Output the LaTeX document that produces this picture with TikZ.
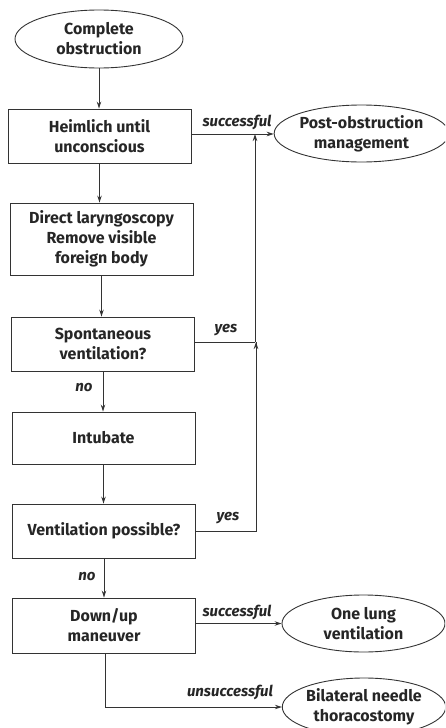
\documentclass[tikz,border=0pt]{standalone}
\usepackage{fontspec}
\setmainfont{Fira Sans}
\usetikzlibrary{arrows.meta,shapes.geometric}
\begin{document}
\begin{tikzpicture}[x=1pt,y=-1pt,
  every node/.style={font=\fontsize{16}{20}\selectfont\bfseries, text=black!85, align=center},
  box/.style={draw=black!80, line width=0.9pt, rectangle, minimum width=183pt, inner sep=0pt},
  oval/.style={draw=black!80, line width=0.9pt, ellipse, inner sep=0pt},
  lbl/.style={font=\fontsize{15}{17}\selectfont\bfseries\itshape, inner sep=0pt},
  conn/.style={draw=black!80, line width=0.9pt},
  arr/.style={conn, -{Stealth[length=7pt,width=4.5pt]}}]
\clip (0,0) rectangle (445,728);
\useasboundingbox (0,0) rectangle (445,728);
\node[oval, minimum width=168pt, minimum height=58pt] (start) at (99,39) {Complete\\obstruction};
\node[box, minimum height=54pt] (heim) at (99.5,136) {Heimlich until\\unconscious};
\node[oval, minimum width=167pt, minimum height=57pt] (post) at (361.5,133.5) {Post-obstruction\\management};
\node[box, minimum height=72pt] (dl) at (101.5,239) {Direct laryngoscopy\\Remove visible\\foreign body};
\node[box, minimum height=54pt] (spont) at (103,344) {Spontaneous\\ventilation?};
\node[box, minimum height=52pt] (intub) at (103.5,438) {Intubate};
\node[box, minimum height=54pt] (vent) at (104,531) {Ventilation possible?};
\node[box, minimum height=55pt] (down) at (104,625.5) {Down/up\\maneuver};
\node[oval, minimum width=163pt, minimum height=57pt] (lung) at (363.5,623.5) {One lung\\ventilation};
\node[oval, minimum width=162pt, minimum height=58pt] (bil) at (364,707) {Bilateral needle\\thoracostomy};
\coordinate (j1) at (255,134);
\coordinate (j2) at (255,342);
\coordinate (j3) at (256,531);
\coordinate (j4) at (105,707);
% main flow
\draw[arr] (start.south) -- (start.south |- heim.north);
\draw[arr] (heim.south) -- (heim.south |- dl.north);
\draw[arr] (dl.south) -- (dl.south |- spont.north);
\draw[arr] (spont.south) -- (spont.south |- intub.north);
\draw[arr] (intub.south) -- (intub.south |- vent.north);
\draw[arr] (vent.south) -- (vent.south |- down.north);
% right side
\draw[arr] (heim.east |- j1) -- (post.west |- j1);
\draw[conn] (spont.east |- j2) -- (j2);
\draw[conn] (vent.east |- j3) -- (j3) -- (j3 |- j2);
\draw[arr] (j3 |- j2) ++(0,4) -- (j3 |- j2);
\draw[arr] (j2) -- (j1);
\draw[arr] (down.east |- lung.west) -- (lung.west);
\draw[arr] (j4 |- down.south) -- (j4) -- (bil.west |- j4);
% labels
\node[lbl] at (237,122) {successful};
\node[lbl] at (226,330) {yes};
\node[lbl] at (84,388) {no};
\node[lbl] at (228,518) {yes};
\node[lbl] at (87,577) {no};
\node[lbl] at (237,612) {successful};
\node[lbl] at (230,692) {unsuccessful};
\end{tikzpicture}
\end{document}
